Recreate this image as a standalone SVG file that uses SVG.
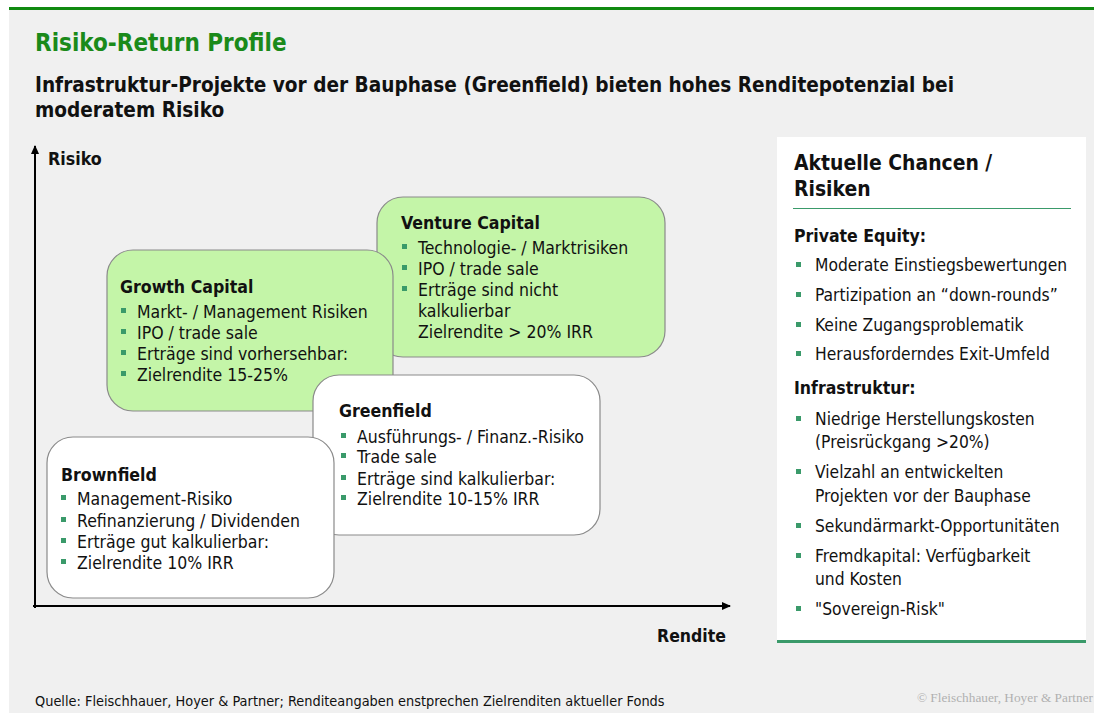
<svg xmlns="http://www.w3.org/2000/svg" width="1094" height="713" viewBox="0 0 1094 713">
<defs>
<style>
text{font-family:"DejaVu Sans Condensed","DejaVu Sans",sans-serif;fill:#111}
.b{font-weight:bold}
.t{font-size:17.5px}
.p{font-size:17.3px}
.h{font-size:17.6px;font-weight:bold}
.box{stroke:#8a8a8a;stroke-width:1.2}
.g{fill:#c4f5a8}
.w{fill:#ffffff}
.bul{fill:#3a9a6a}
</style>
<marker id="ar" markerWidth="10" markerHeight="10" refX="8" refY="5" orient="auto" markerUnits="userSpaceOnUse">
<path d="M0,1 L9,5 L0,9 Z" fill="#000"/>
</marker>
<rect id="sq" width="5" height="5" class="bul"/>
</defs>
<rect x="0" y="0" width="1094" height="713" fill="#ffffff"/>
<rect x="9" y="9" width="1085" height="704" fill="#f0f0f0"/>
<rect x="9" y="7" width="1085" height="3" fill="#108a10"/>
<text x="35" y="51" class="b" style="font-size:24px;fill:#1a8a1a">Risiko-Return Profile</text>
<text x="35" y="92" class="b" style="font-size:20.6px">Infrastruktur-Projekte vor der Bauphase (Greenfield) bieten hohes Renditepotenzial bei</text>
<text x="35" y="117" class="b" style="font-size:20.6px">moderatem Risiko</text>
<g id="connectors">
<line x1="35" y1="608" x2="35" y2="146" stroke="#000" stroke-width="2" marker-end="url(#ar)"/>
<line x1="33" y1="606" x2="730" y2="606" stroke="#000" stroke-width="2" marker-end="url(#ar)"/>
</g>
<text x="48" y="165" class="b" style="font-size:17.7px">Risiko</text>
<text x="657" y="642" class="b" style="font-size:17.5px">Rendite</text>
<g id="venture">
<rect x="377" y="197" width="288" height="160" rx="26" class="box g"/>
<text x="401" y="229" class="h">Venture Capital</text>
<use href="#sq" x="402" y="244"/><text x="418" y="254" class="t">Technologie- / Marktrisiken</text>
<use href="#sq" x="402" y="265"/><text x="418" y="275" class="t">IPO / trade sale</text>
<use href="#sq" x="402" y="286"/><text x="418" y="296" class="t">Erträge sind nicht</text>
<text x="418" y="317" class="t">kalkulierbar</text>
<text x="418" y="338" class="t">Zielrendite &gt; 20% IRR</text>
</g>
<g id="growth">
<rect x="107" y="250" width="286" height="161" rx="26" class="box g"/>
<text x="120" y="293" class="h">Growth Capital</text>
<use href="#sq" x="121" y="308"/><text x="137" y="318" class="t">Markt- / Management Risiken</text>
<use href="#sq" x="121" y="329"/><text x="137" y="339" class="t">IPO / trade sale</text>
<use href="#sq" x="121" y="350"/><text x="137" y="360" class="t">Erträge sind vorhersehbar:</text>
<use href="#sq" x="121" y="371"/><text x="137" y="381" class="t">Zielrendite 15-25%</text>
</g>
<g id="greenfield">
<rect x="313" y="375" width="287" height="160" rx="26" class="box w"/>
<text x="339" y="417" class="h">Greenfield</text>
<use href="#sq" x="341" y="433"/><text x="357" y="443" class="t">Ausführungs- / Finanz.-Risiko</text>
<use href="#sq" x="341" y="453"/><text x="357" y="463" class="t">Trade sale</text>
<use href="#sq" x="341" y="475"/><text x="357" y="485" class="t">Erträge sind kalkulierbar:</text>
<use href="#sq" x="341" y="495"/><text x="357" y="505" class="t">Zielrendite 10-15% IRR</text>
</g>
<g id="brownfield">
<rect x="47" y="437" width="287" height="161" rx="26" class="box w"/>
<text x="61" y="481" class="h">Brownfield</text>
<use href="#sq" x="61" y="495"/><text x="77" y="505" class="t">Management-Risiko</text>
<use href="#sq" x="61" y="517"/><text x="77" y="527" class="t">Refinanzierung / Dividenden</text>
<use href="#sq" x="61" y="538"/><text x="77" y="548" class="t">Erträge gut kalkulierbar:</text>
<use href="#sq" x="61" y="559"/><text x="77" y="569" class="t">Zielrendite 10% IRR</text>
</g>
<g id="panel">
<rect x="777" y="137" width="309" height="504" fill="#ffffff"/>
<rect x="777" y="640" width="309" height="3" fill="#3a9a6a"/>
<text x="794" y="170" class="b" style="font-size:20.9px">Aktuelle Chancen /</text>
<text x="794" y="196" class="b" style="font-size:20.9px">Risiken</text>
<line x1="793" y1="208.5" x2="1071" y2="208.5" stroke="#3a9a6a" stroke-width="1"/>
<text x="794" y="242" class="b" style="font-size:17.5px">Private Equity:</text>
<use href="#sq" x="796" y="262"/><text x="815" y="271" class="p">Moderate Einstiegsbewertungen</text>
<use href="#sq" x="796" y="292"/><text x="815" y="301" class="p">Partizipation an “down-rounds”</text>
<use href="#sq" x="796" y="322"/><text x="815" y="331" class="p">Keine Zugangsproblematik</text>
<use href="#sq" x="796" y="351"/><text x="815" y="360" class="p">Herausforderndes Exit-Umfeld</text>
<text x="794" y="394" class="b" style="font-size:17.5px">Infrastruktur:</text>
<use href="#sq" x="796" y="416"/><text x="815" y="425" class="p">Niedrige Herstellungskosten</text>
<text x="815" y="448" class="p">(Preisrückgang &gt;20%)</text>
<use href="#sq" x="796" y="469"/><text x="815" y="478" class="p">Vielzahl an entwickelten</text>
<text x="815" y="502" class="p">Projekten vor der Bauphase</text>
<use href="#sq" x="796" y="523"/><text x="815" y="532" class="p">Sekundärmarkt-Opportunitäten</text>
<use href="#sq" x="796" y="553"/><text x="815" y="562" class="p">Fremdkapital: Verfügbarkeit</text>
<text x="815" y="585" class="p">und Kosten</text>
<use href="#sq" x="796" y="606"/><text x="815" y="615" class="p">"Sovereign-Risk"</text>
</g>
<text x="35" y="706" style="font-size:14.4px">Quelle: Fleischhauer, Hoyer &amp; Partner; Renditeangaben enstprechen Zielrenditen aktueller Fonds</text>
<text x="1093" y="702" text-anchor="end" style="font-family:'Liberation Serif',serif;font-size:13.3px;fill:#b0b0b0">© Fleischhauer, Hoyer &amp; Partner</text>
</svg>
